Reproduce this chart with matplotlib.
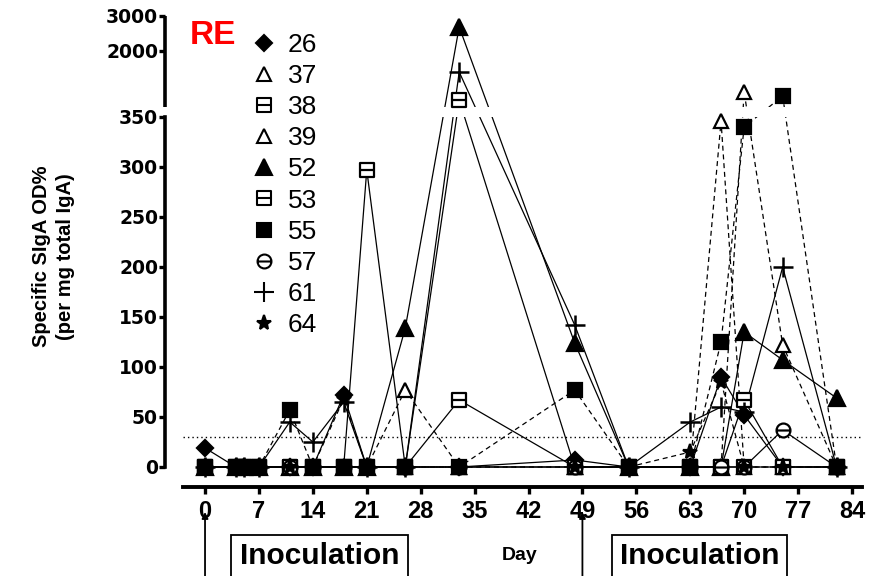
import numpy as np
import matplotlib
matplotlib.use("Agg")
import matplotlib.pyplot as plt
from matplotlib.path import Path
from matplotlib.lines import Line2D
from matplotlib.patches import Rectangle
import matplotlib.transforms as mtransforms

# ---- data -------------------------------------------------------------
days = [0, 4, 5, 7, 11, 14, 18, 21, 26, 33, 48, 55, 63, 67, 70, 75, 82]

s26 = [19, 0, 0, 0, 0, 0, 72, 0, 0, 0, 7, 0, 0, 90, 52, 0, 0]
s37 = [0, 0, 0, 0, 0, 0, 0, 0, 77, 0, 0, 0, 0, 346, 0, 0, 0]
s38 = [0, 0, 0, 0, 0, 0, 0, 0, 0, 67, 0, 0, 0, 0, 67, 0, 0]
s39 = [0, 0, 0, 0, 0, 0, 0, 0, 0, 0, 0, 0, 0, 0, 1243, 122, 0]
s52 = [0, 0, 0, 0, 0, 0, 0, 0, 139, 2641, 124, 0, 0, 0, 135, 107, 69]
s53 = [0, 0, 0, 0, 0, 0, 0, 297, 0, 1133, 0, 0, 0, 0, 0, 0, 0]
s55 = [0, 0, 0, 0, 57, 0, 0, 0, 0, 0, 77, 0, 0, 125, 340, 1187, 0]
s57 = [0, 0, 0, 0, 0, 0, 0, 0, 0, 0, 0, 0, 0, 0, 0, 37, 0]
s61 = [0, 0, 0, 0, 45, 25, 65, 0, 0, 1568, 142, 0, 45, 60, 55, 200, 0]
s64 = [0, 0, 0, 0, 0, 0, 68, 0, 0, 0, 0, 0, 15, 85, 0, 0, 0]

animal_ids = ["26", "37", "38", "39", "52", "53", "55", "57", "61", "64"]
threshold = 30

x_ticks = [0, 7, 14, 21, 28, 35, 42, 49, 56, 63, 70, 77, 84]
y_ticks = [0, 50, 100, 150, 200, 250, 300, 350, 2000, 3000]
inoculation_days = [0, 49]

# ---- broken y scale: linear 0-350, log segment above the break ---------
LOW_TOP = 350.0
HIGH_BASE = 1045.0
GAP = 10.0
DECADE = 198.8


def fwd(v):
    v = np.asarray(v, dtype=float)
    mid = LOW_TOP + GAP * (v - LOW_TOP) / (HIGH_BASE - LOW_TOP)
    hi = LOW_TOP + GAP + DECADE * np.log10(np.maximum(v, HIGH_BASE) / HIGH_BASE)
    return np.where(v <= LOW_TOP, v, np.where(v < HIGH_BASE, mid, hi))


def inv(u):
    u = np.asarray(u, dtype=float)
    mid = LOW_TOP + (u - LOW_TOP) * (HIGH_BASE - LOW_TOP) / GAP
    hi = HIGH_BASE * 10 ** ((np.minimum(u, 2000) - LOW_TOP - GAP) / DECADE)
    return np.where(u <= LOW_TOP, u, np.where(u < LOW_TOP + GAP, mid, hi))


# ---- custom markers ----------------------------------------------------
sq_line = Path(
    [(-1, -1), (1, -1), (1, 1), (-1, 1), (-1, -1), (-1, 0), (1, 0)],
    [Path.MOVETO, Path.LINETO, Path.LINETO, Path.LINETO, Path.CLOSEPOLY,
     Path.MOVETO, Path.LINETO],
)
circ = Path.unit_circle()
circ_line = Path.make_compound_path(
    circ, Path([(-1, 0), (1, 0)], [Path.MOVETO, Path.LINETO])
)

styles = {
    "26": dict(marker="D", ms=8.5, mfc="black", ls="-"),
    "37": dict(marker="^", ms=10, mfc="white", ls="--"),
    "38": dict(marker=sq_line, ms=10, mfc="white", ls="-"),
    "39": dict(marker="^", ms=10, mfc="white", ls="--"),
    "52": dict(marker="^", ms=11, mfc="black", ls="-"),
    "53": dict(marker=sq_line, ms=10, mfc="white", ls="-"),
    "55": dict(marker="s", ms=10.5, mfc="black", ls="--"),
    "57": dict(marker=circ_line, ms=10, mfc="white", ls="-"),
    "61": dict(marker="+", ms=14, mfc="black", ls="-"),
    "64": dict(marker="*", ms=11, mfc="black", ls="--"),
}
series = dict(zip(animal_ids, [s26, s37, s38, s39, s52, s53, s55, s57, s61, s64]))

# ---- figure ------------------------------------------------------------
W, H = 880, 576
fig = plt.figure(figsize=(W / 100, H / 100), dpi=100)
ax_left, ax_right = 183, 862
ax_bottom_px, ax_top_px = 487, 10
ax = fig.add_axes([ax_left / W, (H - ax_bottom_px) / H,
                   (ax_right - ax_left) / W, (ax_bottom_px - ax_top_px) / H])
ax.set_yscale("function", functions=(fwd, inv))
ax.set_ylim(-20, float(inv(467 - ax_top_px)))
ax.set_xlim(-2.86, 85.3)

# lines first, then a white band for the axis break, then markers on top
for key in animal_ids:
    st = styles[key]
    dash = (0, (4, 3)) if st["ls"] == "--" else "-"
    ax.plot(days, series[key], color="black", lw=0.9, ls=dash, zorder=2)

ax.axhspan(LOW_TOP + 0.3, HIGH_BASE - 1, color="white", zorder=3, lw=0)

draw_order = ["26", "37", "38", "39", "52", "53", "57", "61", "64", "55"]
for key in draw_order:
    st = styles[key]
    ax.plot(days, series[key], ls="none", marker=st["marker"], ms=st["ms"],
            mfc=st["mfc"], mec="black", mew=1.6 if key != "61" else 1.8,
            zorder=4)

ax.axhline(threshold, color="black", lw=1.0, ls=(0, (1, 2.2)), zorder=1)

# ---- axes styling ------------------------------------------------------
for sp in ("top", "right"):
    ax.spines[sp].set_visible(False)
ax.spines["left"].set_position(("outward", 13))
ax.spines["left"].set_linewidth(2.6)
ax.spines["left"].set_bounds(0, LOW_TOP)
ax.spines["bottom"].set_linewidth(2.8)
ax.spines["bottom"].set_bounds(-2.86, 85.3)

spine_tr = ax.spines["left"].get_spine_transform()
ax.plot([0, 0], [HIGH_BASE, 3000], transform=spine_tr, color="black",
        lw=2.6, clip_on=False, solid_capstyle="butt")

ax.set_yticks(y_ticks)
ax.set_yticklabels([str(t) for t in y_ticks])
ax.yaxis.set_minor_locator(matplotlib.ticker.NullLocator())
ax.tick_params(axis="y", length=4, width=2.4, pad=1,
               labelsize=13.5)
for lab in ax.get_yticklabels():
    lab.set_fontweight("bold")
    lab.set_family("DejaVu Sans")

ax.set_xticks(x_ticks)
ax.set_xticklabels([str(t) for t in x_ticks])
ax.tick_params(axis="x", length=5, width=2.4, pad=4, labelsize=17)
for lab in ax.get_xticklabels():
    lab.set_fontweight("bold")
    lab.set_family("Liberation Sans")

fig.text(0.061, 0.555, "Specific SIgA OD%\n(per mg total IgA)", rotation=90,
         ha="center", va="center", fontsize=14.5, fontweight="bold",
         family="Liberation Sans", linespacing=1.3)

fig.text(190 / W, 1 - 36 / H, "RE", color="#ff0000", fontsize=24,
         fontweight="bold", family="Liberation Sans", va="center", ha="left")

# ---- legend ------------------------------------------------------------
handles = [Line2D([], [], ls="none", marker=styles[k]["marker"],
                  ms=styles[k]["ms"], mfc=styles[k]["mfc"], mec="black",
                  mew=1.5) for k in animal_ids]
leg = ax.legend(handles, animal_ids, loc="upper left",
                bbox_to_anchor=(252 / W, 1 - 33 / H),
                bbox_transform=fig.transFigure, frameon=False,
                handlelength=0.9, handletextpad=0.45, labelspacing=0.27,
                borderpad=0, borderaxespad=0,
                prop=dict(family="Liberation Sans", size=19))
leg.set_zorder(6)

# ---- inoculation annotations below the axis ----------------------------
blend = mtransforms.blended_transform_factory(ax.transData, fig.transFigure)
for d in inoculation_days:
    ax.annotate("", xy=(d, 1 - 512 / H), xytext=(d, 0.0),
                xycoords=blend, textcoords=blend,
                arrowprops=dict(arrowstyle="-|>", color="black", lw=1.3,
                                mutation_scale=9, shrinkA=0, shrinkB=0),
                annotation_clip=False)

for x0, x1 in [(231, 408), (612, 787)]:
    fig.patches.append(Rectangle((x0 / W, -0.01), (x1 - x0) / W,
                                 (H - 535) / H + 0.01,
                                 transform=fig.transFigure, fill=False,
                                 lw=1.3, ec="black"))
    fig.text((x0 + x1) / 2 / W, 1 - 556 / H, "Inoculation", ha="center",
             va="center", fontsize=21.5, fontweight="bold",
             family="Liberation Sans")

fig.text(520 / W, 1 - 556 / H, "Day", ha="center", va="center",
         fontsize=14, fontweight="bold", family="Liberation Sans")

fig.savefig("out.png", dpi=100)
